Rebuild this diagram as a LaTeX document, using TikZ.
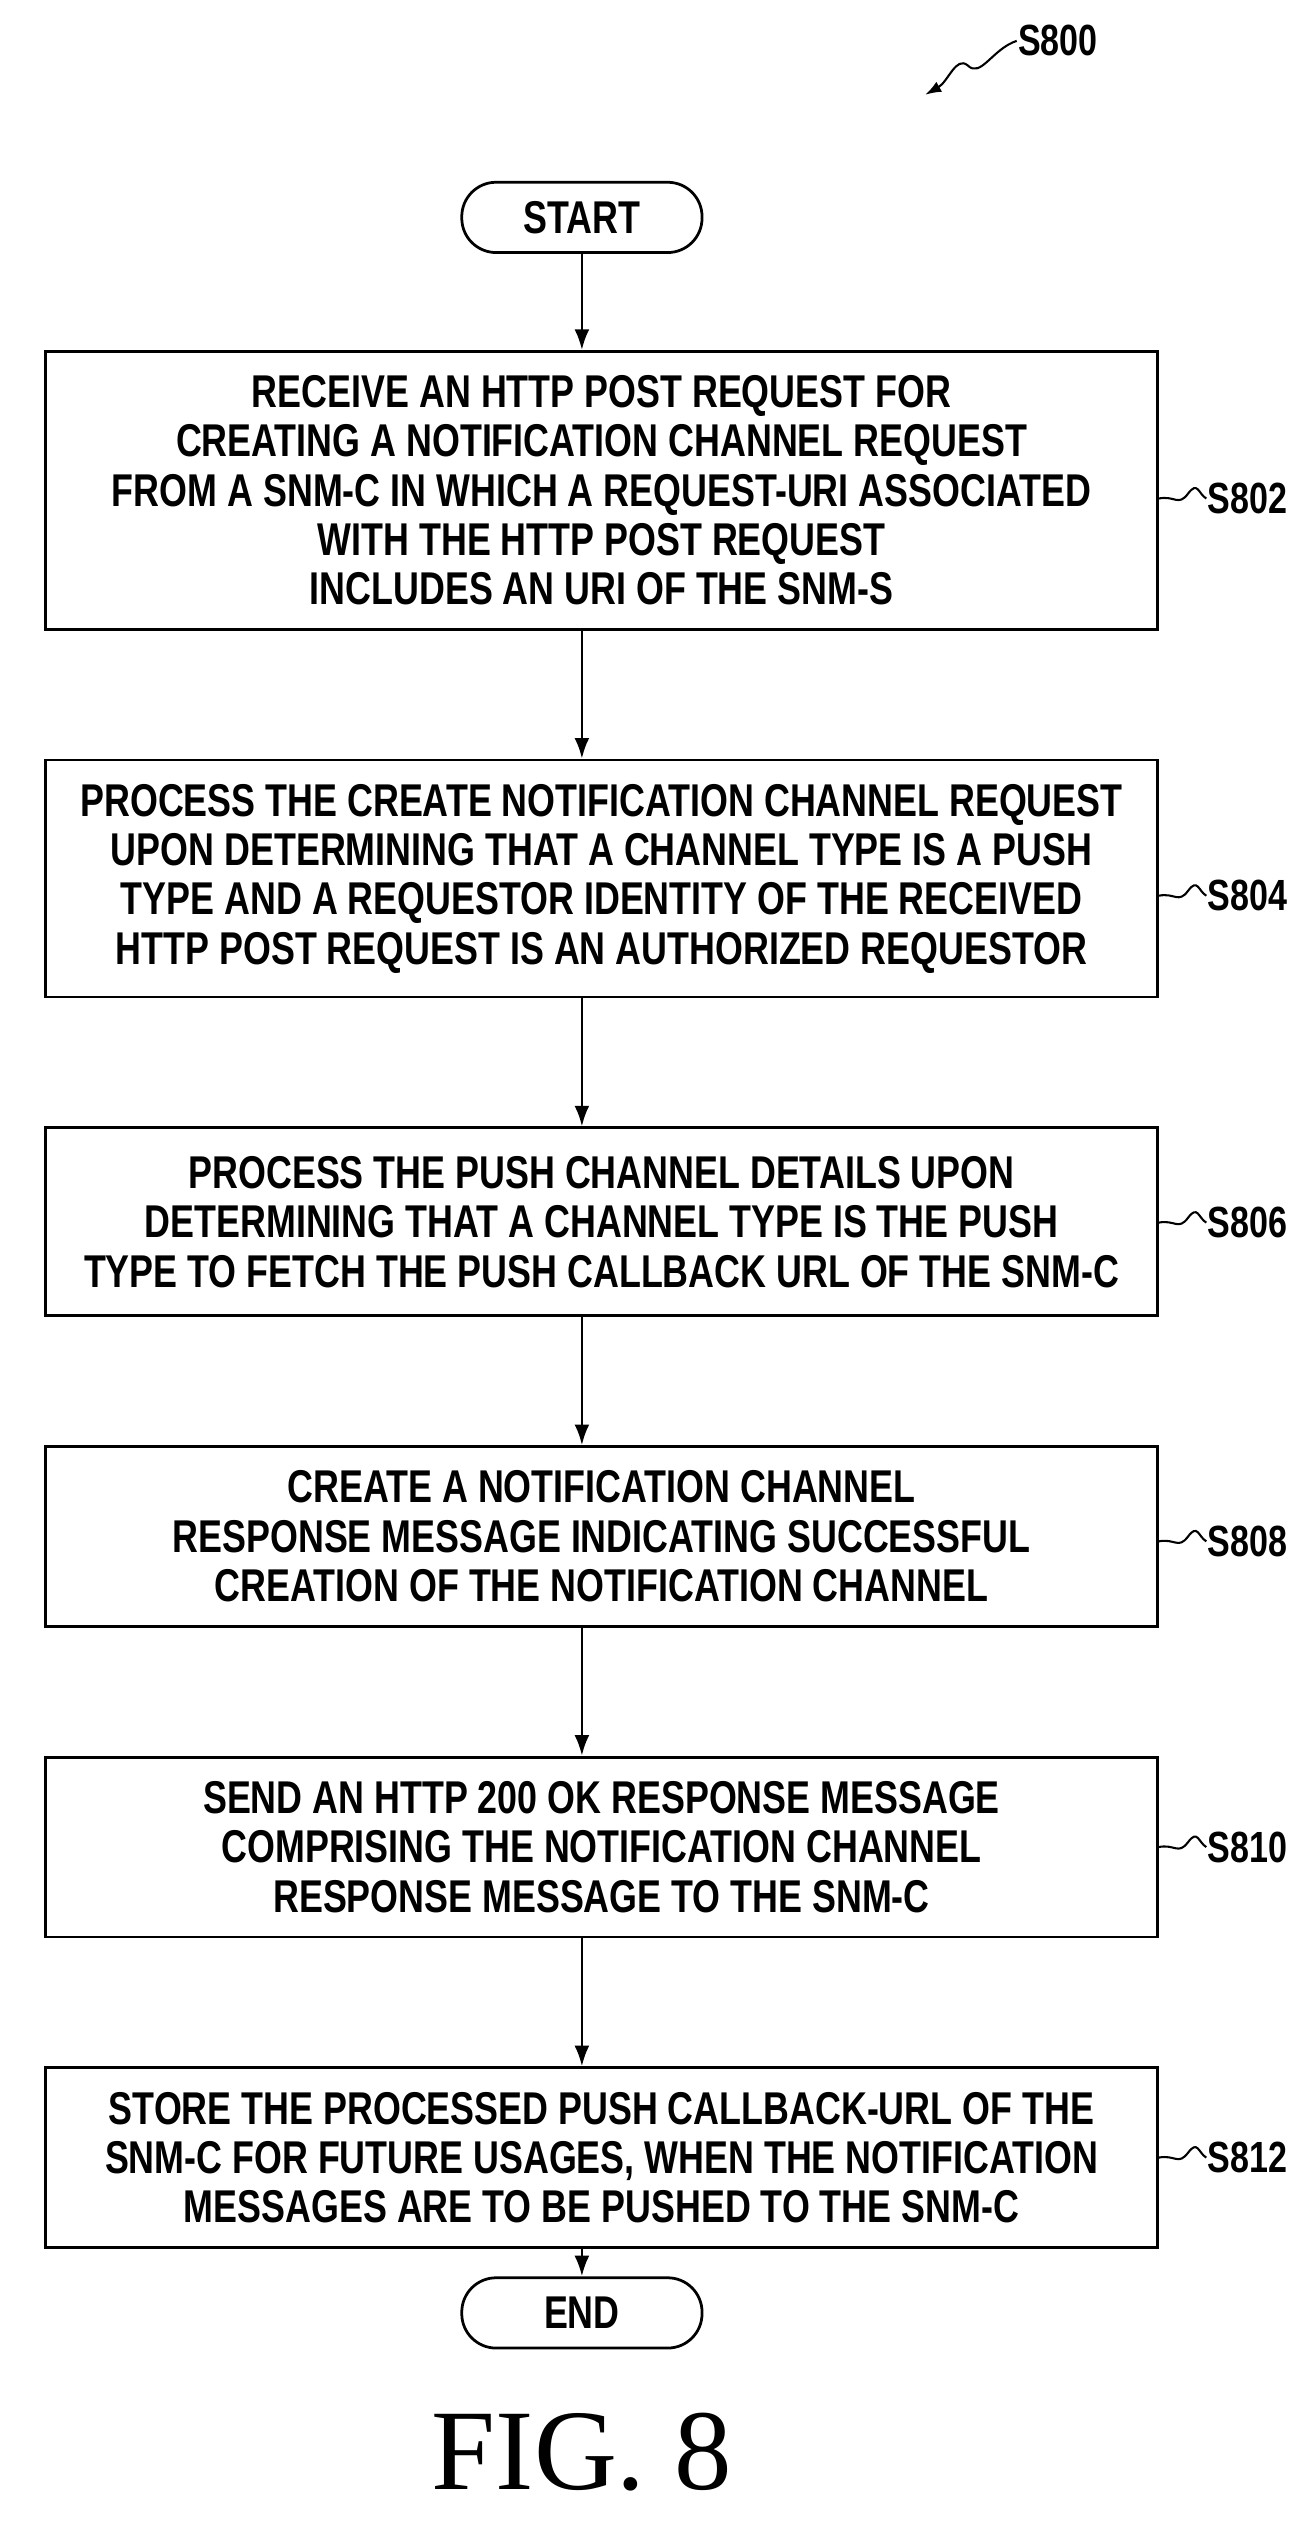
\documentclass[tikz,border=0pt]{standalone}
\usepackage{fontspec}
\setmainfont{Liberation Sans}[FakeStretch=0.78]
\newfontfamily\figfont{Liberation Serif}
\usetikzlibrary{arrows.meta}
\begin{document}
\begin{tikzpicture}[x=0.05cm,y=-0.05cm,
  every path/.style={line width=2.4pt},
  box/.style={draw,line width=2.4pt,minimum width=34cm,align=center,inner sep=0pt,
    font=\bfseries\fontsize{40}{43}\selectfont},
  term/.style={draw,line width=2.4pt,rounded corners=1.05cm,minimum width=7.35cm,minimum height=2.15cm,
    font=\bfseries\fontsize{40}{43}\selectfont},
  lab/.style={anchor=west,inner sep=0pt,font=\bfseries\fontsize{38}{43}\selectfont},
  arr/.style={-{Latex[length=18pt,width=13pt]}},
  sq/.style={line width=1.8pt}]
\useasboundingbox (0,0) rectangle (800,1557);
\node[term] (start) at (356,133) {START};
\node[box,minimum height=8.5cm] (b1) at (368,300) {RECEIVE AN HTTP POST REQUEST FOR\\CREATING A NOTIFICATION CHANNEL REQUEST\\FROM A SNM-C IN WHICH A REQUEST-URI ASSOCIATED\\WITH THE HTTP POST REQUEST\\INCLUDES AN URI OF THE SNM-S};
\node[box,minimum height=7.25cm] (b2) at (368,537.5) {PROCESS THE CREATE NOTIFICATION CHANNEL REQUEST\\UPON DETERMINING THAT A CHANNEL TYPE IS A PUSH\\TYPE AND A REQUESTOR IDENTITY OF THE RECEIVED\\HTTP POST REQUEST IS AN AUTHORIZED REQUESTOR};
\node[box,minimum height=5.75cm] (b3) at (368,747.5) {PROCESS THE PUSH CHANNEL DETAILS UPON\\DETERMINING THAT A CHANNEL TYPE IS THE PUSH\\TYPE TO FETCH THE PUSH CALLBACK URL OF THE SNM-C};
\node[box,minimum height=5.5cm] (b4) at (368,940) {CREATE A NOTIFICATION CHANNEL\\RESPONSE MESSAGE INDICATING SUCCESSFUL\\CREATION OF THE NOTIFICATION CHANNEL};
\node[box,minimum height=5.5cm] (b5) at (368,1130) {SEND AN HTTP 200 OK RESPONSE MESSAGE\\COMPRISING THE NOTIFICATION CHANNEL\\RESPONSE MESSAGE TO THE SNM-C};
\node[box,minimum height=5.5cm] (b6) at (368,1320) {STORE THE PROCESSED PUSH CALLBACK-URL OF THE\\SNM-C FOR FUTURE USAGES, WHEN THE NOTIFICATION\\MESSAGES ARE TO BE PUSHED TO THE SNM-C};
\node[term] (end) at (356,1415) {END};
\draw[arr] (start) -- (start|-b1.north);
\draw[arr] (b1.south-|start) -- (start|-b2.north);
\draw[arr] (b2.south-|start) -- (start|-b3.north);
\draw[arr] (b3.south-|start) -- (start|-b4.north);
\draw[arr] (b4.south-|start) -- (start|-b5.north);
\draw[arr] (b5.south-|start) -- (start|-b6.north);
\draw[arr] (b6.south-|start) -- (end);
\foreach \b/\t/\y in {b1/S802/305,b2/S804/548,b3/S806/748,b4/S808/943,b5/S810/1130,b6/S812/1320}{
  \node[lab] (l\t) at (738,\y) {\t};
  \draw[sq] (\b.east|-l\t.west) .. controls +(10,-2) and +(-6,8) .. +(18,-3) .. controls +(6,-8) and +(-5,-3) .. (l\t.west);
}
\node[lab] (s800) at (622,25) {S800};
\coordinate (s800t) at (566,58);
\draw[sq,-{Latex[length=14pt,width=10pt]}] (s800.west) .. controls (607,30) and (600,48) .. (592,40) .. controls (585,34) and (580,50) .. (s800t);
\node[font=\figfont\fontsize{100}{110}\selectfont] (fig) at (356,1500) {FIG. 8};
\end{tikzpicture}
\end{document}
